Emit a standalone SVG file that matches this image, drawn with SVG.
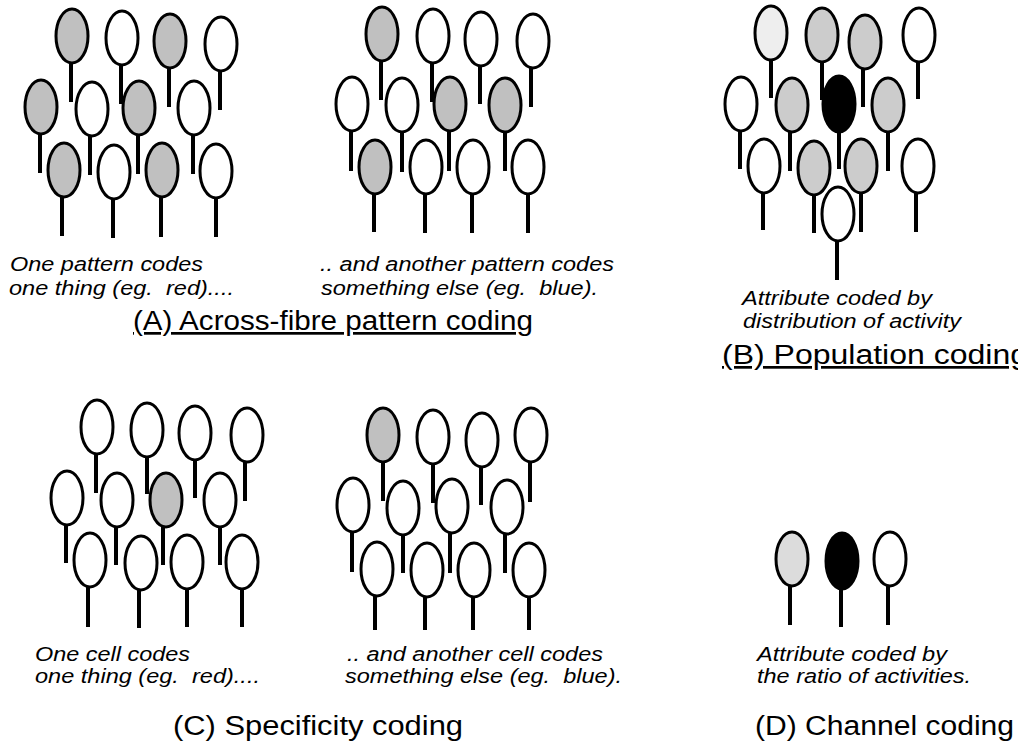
<svg xmlns="http://www.w3.org/2000/svg" width="1018" height="750" viewBox="0 0 1018 750">
<style>
ellipse{stroke:#000;stroke-width:3;fill:#fff}
line{stroke:#000;stroke-width:4}
.g ellipse{fill:#c0c0c0}
.lg ellipse{fill:#cccccc}
.xl ellipse{fill:#eeeeee}
.dl ellipse{fill:#dcdcdc}
.b ellipse{fill:#000}
text{font-family:"Liberation Sans",Arial,sans-serif;fill:#000;white-space:pre}
.n{font-size:20px;font-style:italic}
.t{font-size:27px}
</style>
<rect width="1018" height="750" fill="#fff"/>
<g id="panelA-left">
<g id="a1" class="g"><ellipse cx="72" cy="36" rx="16" ry="27"/><line x1="71" y1="63" x2="71" y2="102"/></g>
<g id="a2"><ellipse cx="122" cy="38" rx="16" ry="27"/><line x1="121" y1="65" x2="121" y2="104"/></g>
<g id="a3" class="g"><ellipse cx="170" cy="41" rx="16" ry="27"/><line x1="169" y1="68" x2="169" y2="107"/></g>
<g id="a4"><ellipse cx="221" cy="44" rx="16" ry="27"/><line x1="220" y1="71" x2="220" y2="110"/></g>
<g id="a5" class="g"><ellipse cx="41" cy="107" rx="16" ry="27"/><line x1="40" y1="134" x2="40" y2="173"/></g>
<g id="a6"><ellipse cx="92" cy="109" rx="16" ry="27"/><line x1="90" y1="136" x2="90" y2="175"/></g>
<g id="a7" class="g"><ellipse cx="139" cy="108" rx="16" ry="27"/><line x1="138" y1="135" x2="138" y2="174"/></g>
<g id="a8"><ellipse cx="194" cy="108" rx="16" ry="27"/><line x1="193" y1="135" x2="193" y2="174"/></g>
<g id="a9" class="g"><ellipse cx="64" cy="170" rx="16" ry="27"/><line x1="62" y1="197" x2="62" y2="236"/></g>
<g id="a10"><ellipse cx="114" cy="172" rx="16" ry="27"/><line x1="113" y1="199" x2="113" y2="238"/></g>
<g id="a11" class="g"><ellipse cx="162" cy="170" rx="16" ry="27"/><line x1="161" y1="197" x2="161" y2="237"/></g>
<g id="a12"><ellipse cx="216" cy="171" rx="16" ry="27"/><line x1="216" y1="198" x2="216" y2="237"/></g>
</g>
<g id="panelA-right">
<g id="b1" class="g"><ellipse cx="382" cy="34" rx="16" ry="27"/><line x1="381" y1="61" x2="381" y2="100"/></g>
<g id="b2"><ellipse cx="433" cy="36" rx="16" ry="27"/><line x1="432" y1="63" x2="432" y2="102"/></g>
<g id="b3"><ellipse cx="481" cy="39" rx="16" ry="27"/><line x1="480" y1="66" x2="480" y2="104"/></g>
<g id="b4"><ellipse cx="533" cy="41" rx="16" ry="27"/><line x1="531" y1="68" x2="531" y2="107"/></g>
<g id="b5"><ellipse cx="352" cy="104" rx="16" ry="27"/><line x1="351" y1="131" x2="351" y2="171"/></g>
<g id="b6"><ellipse cx="402" cy="105" rx="16" ry="27"/><line x1="402" y1="132" x2="402" y2="172"/></g>
<g id="b7" class="g"><ellipse cx="450" cy="104" rx="16" ry="27"/><line x1="449" y1="131" x2="449" y2="171"/></g>
<g id="b8" class="g"><ellipse cx="505" cy="105" rx="16" ry="27"/><line x1="505" y1="132" x2="505" y2="171"/></g>
<g id="b9" class="g"><ellipse cx="375" cy="167" rx="16" ry="27"/><line x1="374" y1="194" x2="374" y2="232"/></g>
<g id="b10"><ellipse cx="426" cy="167" rx="16" ry="27"/><line x1="425" y1="194" x2="425" y2="233"/></g>
<g id="b11"><ellipse cx="473" cy="167" rx="16" ry="27"/><line x1="472" y1="194" x2="472" y2="233"/></g>
<g id="b12"><ellipse cx="528" cy="167" rx="16" ry="27"/><line x1="528" y1="194" x2="528" y2="233"/></g>
</g>
<g id="panelB">
<g id="p1" class="xl"><ellipse cx="771" cy="33" rx="16" ry="27"/><line x1="771" y1="60" x2="771" y2="98"/></g>
<g id="p2" class="lg"><ellipse cx="822" cy="35" rx="16" ry="27"/><line x1="822" y1="62" x2="822" y2="100"/></g>
<g id="p3" class="lg"><ellipse cx="865" cy="42" rx="16" ry="27"/><line x1="863" y1="69" x2="863" y2="107"/></g>
<g id="p4"><ellipse cx="919" cy="35" rx="16" ry="27"/><line x1="918" y1="62" x2="918" y2="99"/></g>
<g id="p5"><ellipse cx="741" cy="104" rx="16" ry="27"/><line x1="740" y1="131" x2="740" y2="169"/></g>
<g id="p6" class="lg"><ellipse cx="792" cy="105" rx="16" ry="27"/><line x1="790" y1="132" x2="790" y2="171"/></g>
<g id="p7" class="b"><ellipse cx="839" cy="104" rx="16" ry="28"/><line x1="839" y1="131" x2="839" y2="169"/></g>
<g id="p8" class="lg"><ellipse cx="888" cy="105" rx="16" ry="27"/><line x1="888" y1="132" x2="888" y2="171"/></g>
<g id="p9"><ellipse cx="764" cy="166" rx="16" ry="27"/><line x1="763" y1="193" x2="763" y2="230"/></g>
<g id="p10" class="lg"><ellipse cx="814" cy="168" rx="16" ry="27"/><line x1="814" y1="195" x2="814" y2="233"/></g>
<g id="p11" class="lg"><ellipse cx="861" cy="166" rx="16" ry="27"/><line x1="861" y1="193" x2="861" y2="232"/></g>
<g id="p12"><ellipse cx="918" cy="166" rx="16" ry="27"/><line x1="916" y1="193" x2="916" y2="232"/></g>
<g id="p13"><ellipse cx="838" cy="214" rx="16" ry="27"/><line x1="837" y1="241" x2="837" y2="280"/></g>
</g>
<g id="panelC-left">
<g id="s1"><ellipse cx="97" cy="427" rx="16" ry="27"/><line x1="96" y1="454" x2="96" y2="493"/></g>
<g id="s2"><ellipse cx="147" cy="430" rx="16" ry="27"/><line x1="147" y1="457" x2="147" y2="494"/></g>
<g id="s3"><ellipse cx="195" cy="433" rx="16" ry="27"/><line x1="195" y1="460" x2="195" y2="498"/></g>
<g id="s4"><ellipse cx="247" cy="435" rx="16" ry="27"/><line x1="245" y1="462" x2="245" y2="501"/></g>
<g id="s5"><ellipse cx="67" cy="498" rx="16" ry="27"/><line x1="66" y1="525" x2="66" y2="563"/></g>
<g id="s6"><ellipse cx="117" cy="500" rx="16" ry="27"/><line x1="116" y1="527" x2="116" y2="565"/></g>
<g id="s7" class="g"><ellipse cx="166" cy="500" rx="16" ry="27"/><line x1="163" y1="527" x2="163" y2="565"/></g>
<g id="s8"><ellipse cx="220" cy="500" rx="16" ry="27"/><line x1="220" y1="527" x2="220" y2="565"/></g>
<g id="s9"><ellipse cx="90" cy="560" rx="16" ry="27"/><line x1="88" y1="587" x2="88" y2="627"/></g>
<g id="s10"><ellipse cx="141" cy="563" rx="16" ry="27"/><line x1="139" y1="590" x2="139" y2="628"/></g>
<g id="s11"><ellipse cx="187" cy="562" rx="16" ry="27"/><line x1="187" y1="589" x2="187" y2="627"/></g>
<g id="s12"><ellipse cx="242" cy="562" rx="16" ry="27"/><line x1="242" y1="589" x2="242" y2="627"/></g>
</g>
<g id="panelC-right">
<g id="r1" class="g"><ellipse cx="383" cy="435" rx="16" ry="27"/><line x1="383" y1="462" x2="383" y2="501"/></g>
<g id="r2"><ellipse cx="433" cy="437" rx="16" ry="27"/><line x1="433" y1="464" x2="433" y2="503"/></g>
<g id="r3"><ellipse cx="482" cy="440" rx="16" ry="27"/><line x1="481" y1="467" x2="481" y2="505"/></g>
<g id="r4"><ellipse cx="531" cy="435" rx="16" ry="27"/><line x1="530" y1="462" x2="530" y2="502"/></g>
<g id="r5"><ellipse cx="353" cy="505" rx="16" ry="27"/><line x1="352" y1="532" x2="352" y2="572"/></g>
<g id="r6"><ellipse cx="403" cy="508" rx="16" ry="27"/><line x1="403" y1="535" x2="403" y2="573"/></g>
<g id="r7"><ellipse cx="452" cy="506" rx="16" ry="27"/><line x1="450" y1="533" x2="450" y2="573"/></g>
<g id="r8"><ellipse cx="507" cy="507" rx="16" ry="27"/><line x1="505" y1="534" x2="505" y2="573"/></g>
<g id="r9"><ellipse cx="377" cy="569" rx="16" ry="27"/><line x1="375" y1="596" x2="375" y2="630"/></g>
<g id="r10"><ellipse cx="427" cy="570" rx="16" ry="27"/><line x1="425" y1="597" x2="425" y2="630"/></g>
<g id="r11"><ellipse cx="474" cy="570" rx="16" ry="27"/><line x1="473" y1="597" x2="473" y2="630"/></g>
<g id="r12"><ellipse cx="529" cy="570" rx="16" ry="27"/><line x1="529" y1="597" x2="529" y2="630"/></g>
</g>
<g id="panelD">
<g id="d1" class="dl"><ellipse cx="792" cy="559" rx="16" ry="27"/><line x1="790" y1="586" x2="790" y2="625"/></g>
<g id="d2" class="b"><ellipse cx="842" cy="561" rx="16" ry="28"/><line x1="841" y1="588" x2="841" y2="627"/></g>
<g id="d3"><ellipse cx="890" cy="559" rx="16" ry="27"/><line x1="888" y1="586" x2="888" y2="625"/></g>
</g>
<g id="connectors"/>
<g id="labels">
<text class="n" x="10" y="271" textLength="193" lengthAdjust="spacingAndGlyphs">One pattern codes</text>
<text class="n" x="9" y="295" textLength="225" lengthAdjust="spacingAndGlyphs">one thing (eg.  red)....</text>
<text class="n" x="320" y="271" textLength="294" lengthAdjust="spacingAndGlyphs">.. and another pattern codes</text>
<text class="n" x="321" y="295" textLength="277" lengthAdjust="spacingAndGlyphs">something else (eg.  blue).</text>
<text class="t" x="133" y="330" textLength="400" lengthAdjust="spacingAndGlyphs" text-decoration="underline">(A) Across-fibre pattern coding</text>
<text class="n" x="742" y="305" textLength="190" lengthAdjust="spacingAndGlyphs">Attribute coded by</text>
<text class="n" x="743" y="328" textLength="218" lengthAdjust="spacingAndGlyphs">distribution of activity</text>
<text class="t" x="722" y="364" textLength="306" lengthAdjust="spacingAndGlyphs" text-decoration="underline">(B) Population coding</text>
<text class="n" x="35" y="661" textLength="155" lengthAdjust="spacingAndGlyphs">One cell codes</text>
<text class="n" x="35" y="683" textLength="225" lengthAdjust="spacingAndGlyphs">one thing (eg.  red)....</text>
<text class="n" x="347" y="661" textLength="256" lengthAdjust="spacingAndGlyphs">.. and another cell codes</text>
<text class="n" x="345" y="683" textLength="277" lengthAdjust="spacingAndGlyphs">something else (eg.  blue).</text>
<text class="n" x="757" y="661" textLength="190" lengthAdjust="spacingAndGlyphs">Attribute coded by</text>
<text class="n" x="757" y="683" textLength="214" lengthAdjust="spacingAndGlyphs">the ratio of activities.</text>
<text class="t" x="173" y="735" textLength="290" lengthAdjust="spacingAndGlyphs">(C) Specificity coding</text>
<text class="t" x="755" y="735" textLength="259" lengthAdjust="spacingAndGlyphs">(D) Channel coding</text>
</g>
</svg>
